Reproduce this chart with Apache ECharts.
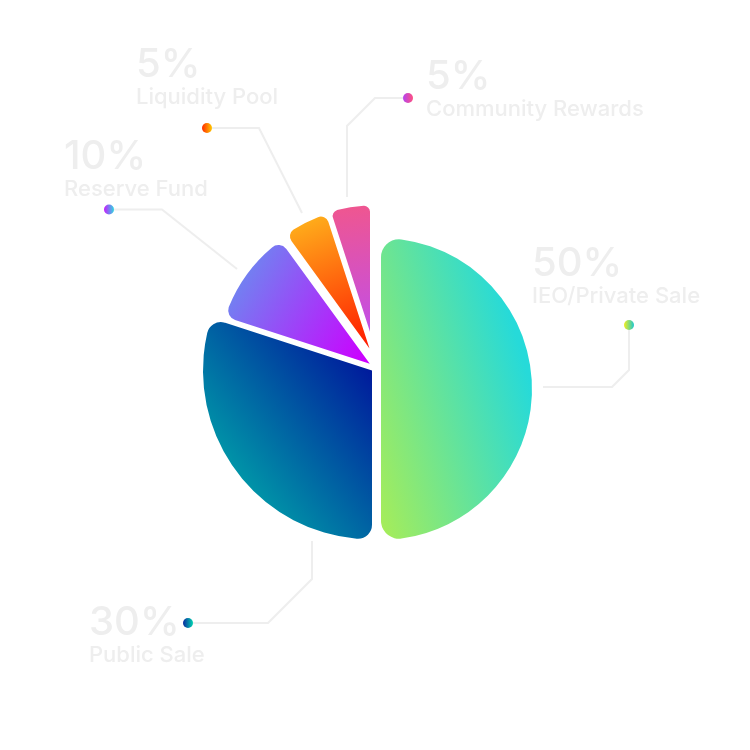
<!DOCTYPE html>
<html>
<head>
<meta charset="utf-8">
<script src="https://cdn.jsdelivr.net/npm/echarts@6/dist/echarts.min.js"></script>
<style>html,body{margin:0;padding:0;background:#fff}#c{width:750px;height:750px}</style>
</head>
<body>
<div id="c"></div>
<script>
// ---- data ----
const categories = ['IEO/Private Sale', 'Public Sale', 'Reserve Fund', 'Liquidity Pool', 'Community Rewards'];
const values = [50, 30, 10, 5, 5];

// ---- styles / layout (not data) ----
// gradient vectors in units of slice radius, relative to slice centre (global pixels computed below)
const sliceGradients = [
  {from: [0, 1], to: [1.19, 0.654], c: ['#a8ed57', '#26dad9']},
  {from: [0, 0], to: [-0.81, 0.65], c: ['#001a9c', '#0098a8']},
  {from: [-0.95, -0.55], to: [-0.05, 0.0], c: ['#6a8cf0', '#cc00ff']},
  {from: [-0.4, -1.0], to: [0, 0], c: ['#ffb61c', '#ff1800']},
  {from: [-0.1, -1.0], to: [0, 0], c: ['#ef5690', '#c24ee8']}
];
const dotGradients = [
  ['#f2ee1c', '#1ec8d0'],
  ['#0a2aa0', '#00d4b0'],
  ['#c81cff', '#30d8e0'],
  ['#ff2a00', '#ffc800'],
  ['#b444f0', '#ff5080']
];
const sliceLayout = [
  {center: [381, 389], radius: 151, corner: 18},
  {center: [372, 370.5], radius: 169, corner: 14},
  {center: [369.8, 363.8], radius: 152, corner: 10},
  {center: [369.5, 348.4], radius: 141, corner: 8},
  {center: [370, 331.7], radius: 126, corner: 6}
];
const labelLayoutCfg = [
  {x: 532, y: 243, line: [[543, 387], [612, 387], [629, 370], [629, 330]], dot: [629, 325]},
  {x: 89, y: 602, line: [[312, 541], [312, 579], [268, 623], [193, 623]], dot: [188, 623]},
  {x: 64, y: 136, line: [[237, 269], [162, 209.5], [114, 209.5]], dot: [109, 209.5]},
  {x: 136, y: 44, line: [[302, 213], [259, 128], [212, 128]], dot: [207, 128]},
  {x: 426, y: 56, line: [[347, 197], [347, 126], [375, 98], [403, 98]], dot: [408, 98]}
];

const total = values.reduce((a, b) => a + b, 0);
const FONT = 'Inter';
const TEXT_COLOR = '#eeeeee';

function sliceFill(k) {
  const L = sliceLayout[k], g = sliceGradients[k];
  const cx = L.center[0], cy = L.center[1], r = L.radius;
  return new echarts.graphic.LinearGradient(
    cx + g.from[0] * r, cy + g.from[1] * r, cx + g.to[0] * r, cy + g.to[1] * r,
    [{offset: 0, color: g.c[0]}, {offset: 1, color: g.c[1]}], true);
}

const series = categories.map((name, k) => {
  const L = sliceLayout[k];
  return {
    type: 'pie',
    silent: true,
    animation: false,
    startAngle: 90,
    clockwise: true,
    avoidLabelOverlap: false,
    center: L.center,
    radius: [0, L.radius],
    itemStyle: {borderRadius: L.corner},
    emphasis: {disabled: true},
    labelLayout: function (p) {
      if (p.dataIndex !== k) return {};
      const c = labelLayoutCfg[k];
      return {x: c.x, y: c.y, align: 'left', verticalAlign: 'top', labelLinePoints: c.line};
    },
    data: categories.map((n, i) => {
      const visible = i === k;
      return {
        name: n,
        value: values[i],
        itemStyle: visible ? {color: sliceFill(k)} : {color: 'rgba(0,0,0,0)'},
        label: visible ? {
          show: true,
          position: 'outside',
          formatter: function (p) {
            return '{p|' + Math.round(p.value / total * 100) + '%}\n{n|' + p.name + '}';
          },
          rich: {
            p: {fontFamily: FONT, fontSize: 40, fontWeight: 500, color: TEXT_COLOR, lineHeight: 41},
            n: {fontFamily: FONT, fontSize: 22, fontWeight: 500, color: TEXT_COLOR, lineHeight: 24}
          }
        } : {show: false},
        labelLine: visible ? {show: true, lineStyle: {color: '#eeeeee', width: 2}} : {show: false}
      };
    })
  };
});

const graphics = labelLayoutCfg.map((c, k) => ({
  type: 'circle',
  silent: true,
  shape: {cx: c.dot[0], cy: c.dot[1], r: 5},
  style: {
    fill: new echarts.graphic.LinearGradient(0, 0, 1, 0, [
      {offset: 0, color: dotGradients[k][0]}, {offset: 1, color: dotGradients[k][1]}
    ])
  },
  z: 10
}));

const chart = echarts.init(document.getElementById('c'), null, {renderer: 'canvas'});
chart.setOption({
  backgroundColor: '#ffffff',
  animation: false,
  graphic: graphics,
  series: series
});
</script>
</body>
</html>
